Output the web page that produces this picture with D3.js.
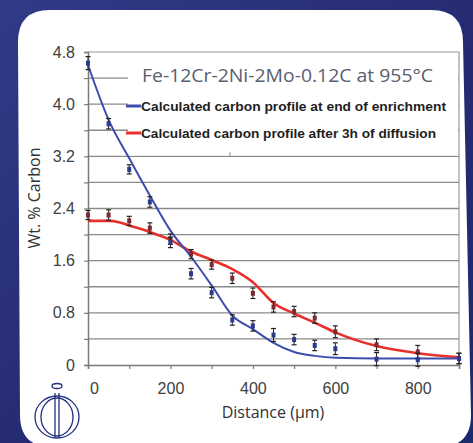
<!DOCTYPE html>
<html>
<head>
<meta charset="utf-8">
<script src="https://cdn.jsdelivr.net/npm/d3@7"></script>
<style>
  body { margin: 0; background: #242a70; }
  svg { display: block; }
</style>
</head>
<body>
<div id="chart"></div>
<script>
// measured points (x in µm)
var distance = [0, 50, 100, 150, 200, 250, 300, 350, 400, 450, 500, 550, 600, 700, 800, 900];
var enrichMeasured = [4.63, 3.70, 3.00, 2.50, 1.88, 1.40, 1.11, 0.69, 0.60, 0.46, 0.39, 0.30, 0.25, 0.09, 0.08, 0.10];
var enrichErr = [0.10, 0.08, 0.07, 0.08, 0.08, 0.08, 0.08, 0.08, 0.08, 0.10, 0.08, 0.08, 0.09, 0.10, 0.10, 0.08];
var diffMeasured = [2.30, 2.30, 2.21, 2.10, 1.93, 1.70, 1.54, 1.33, 1.10, 0.89, 0.82, 0.72, 0.51, 0.31, 0.20, 0.10];
var diffErr = [0.07, 0.08, 0.07, 0.08, 0.08, 0.07, 0.07, 0.08, 0.08, 0.08, 0.08, 0.08, 0.09, 0.09, 0.10, 0.08];

// calculated profiles
var enrichCalcX = [0, 50, 100, 150, 200, 250, 300, 350, 400, 450, 500, 550, 600, 700, 800, 900];
var enrichCalcY = [4.60, 3.76, 3.17, 2.60, 2.06, 1.66, 1.22, 0.76, 0.55, 0.34, 0.20, 0.14, 0.11, 0.10, 0.10, 0.10];
var diffCalcX = [0, 50, 75, 100, 150, 200, 250, 300, 350, 400, 450, 500, 550, 600, 700, 800, 900];
var diffCalcY = [2.21, 2.21, 2.19, 2.14, 2.04, 1.92, 1.74, 1.61, 1.47, 1.27, 0.95, 0.79, 0.65, 0.50, 0.29, 0.18, 0.12];

var yTicks = [0, 0.8, 1.6, 2.4, 3.2, 4.0, 4.8];
var yGrid = [0.4, 0.8, 1.2, 1.6, 2.0, 2.4, 2.8, 3.2, 3.6, 4.0, 4.4];
var xTicks = [0, 200, 400, 600, 800];
var xMinor = [0, 100, 200, 300, 400, 500, 600, 700, 800, 900];

var title = "Fe-12Cr-2Ni-2Mo-0.12C at 955°C";
var legendNames = ["Calculated carbon profile at end of enrichment",
                   "Calculated carbon profile after 3h of diffusion"];

var width = 473, height = 443;
var svg = d3.select("#chart").append("svg")
    .attr("width", width)
    .attr("height", height);

var defs = svg.append("defs");
var bg = defs.append("linearGradient").attr("id", "bg")
    .attr("x1", 0).attr("y1", 0).attr("x2", 1).attr("y2", 1);
bg.append("stop").attr("offset", "0%").attr("stop-color", "#323a88");
bg.append("stop").attr("offset", "55%").attr("stop-color", "#252b72");
bg.append("stop").attr("offset", "100%").attr("stop-color", "#1c2a6c");

svg.append("rect").attr("width", width).attr("height", height).attr("fill", "url(#bg)");

// white rounded panel (slightly skewed like the photo)
var r = 32;
var panel = "M" + (18 + r) + ",10 L" + (463 - r) + ",10 Q463,10 463," + (10 + r) +
    " L471," + (447 - r) + " Q471,447 " + (471 - r) + ",447 L" + (20 + r) + ",447 Q20,447 20," + (447 - r) +
    " L18," + (10 + r) + " Q18,10 " + (18 + r) + ",10 Z";
svg.append("path").attr("d", panel).attr("fill", "#ffffff");

var x = d3.scaleLinear().domain([0, 900]).range([88, 459]);
var y = d3.scaleLinear().domain([0, 4.8]).range([365, 52]);

// gridlines
svg.append("g").selectAll("line").data(yGrid).enter().append("line")
    .attr("x1", x(0)).attr("x2", x(900))
    .attr("y1", d => y(d)).attr("y2", d => y(d))
    .attr("stroke", "#8a8a8a").attr("stroke-width", 1.3);

// frame top and right
svg.append("path")
    .attr("d", "M" + x(0) + "," + y(4.8) + "H" + x(900) + "V" + y(0))
    .attr("fill", "none").attr("stroke", "#9a9a9a").attr("stroke-width", 1.2);

// legend box
svg.append("rect")
    .attr("x", 128).attr("y", y(4.8) + 1)
    .attr("width", x(900) - 129).attr("height", y(3.2) - y(4.8) - 2)
    .attr("fill", "#fff");
svg.append("line")
    .attr("x1", 230).attr("x2", 230).attr("y1", y(3.2) - 4).attr("y2", y(3.2))
    .attr("stroke", "#888");

svg.append("text")
    .attr("x", 142).attr("y", 82)
    .attr("textLength", 291).attr("lengthAdjust", "spacingAndGlyphs")
    .style("font-family", "Open Sans, Liberation Sans, sans-serif")
    .style("font-size", "18px")
    .style("fill", "#5a6070")
    .text(title);

var legColors = ["#3d4dae", "#e8302a"];
var legY = [106, 133];
var legLen = [305, 295];
legendNames.forEach(function (name, i) {
  svg.append("line")
      .attr("x1", 126).attr("x2", 141)
      .attr("y1", legY[i]).attr("y2", legY[i])
      .attr("stroke", legColors[i]).attr("stroke-width", 3);
  svg.append("text")
      .attr("x", 141).attr("y", legY[i] + 5)
      .attr("textLength", legLen[i]).attr("lengthAdjust", "spacingAndGlyphs")
      .style("font-family", "Liberation Sans, Arial, sans-serif")
      .style("font-weight", "bold")
      .style("font-size", "13px")
      .style("fill", "#1e1e1e")
      .text(name);
});

// axes
var xAxis = d3.axisBottom(x).tickValues(xMinor).tickSize(4).tickPadding(14)
    .tickFormat(d => xTicks.indexOf(d) >= 0 ? d : "");
var gx = svg.append("g").attr("transform", "translate(0," + y(0) + ")").call(xAxis);

var yAxis = d3.axisLeft(y).tickValues([0].concat(yGrid, [4.8])).tickSize(4).tickPadding(9)
    .tickFormat(d => yTicks.some(t => Math.abs(t - d) < 1e-6) ? (d === 0 ? "0" : d3.format(".1f")(d)) : "");
var gy = svg.append("g").attr("transform", "translate(" + x(0) + ",0)").call(yAxis);

[gx, gy].forEach(function (g) {
  g.select(".domain").attr("stroke", "#7a7a7a").attr("stroke-width", 1.5);
  g.selectAll(".tick line").attr("stroke", "#7a7a7a").attr("stroke-width", 1.2);
  g.selectAll(".tick text")
      .style("font-family", "Liberation Sans, Arial, sans-serif")
      .style("font-size", "16px")
      .style("fill", "#404040");
});
gx.selectAll(".tick text").filter(d => d === 0).attr("x", 6);

svg.append("text")
    .attr("x", 273).attr("y", 418)
    .attr("text-anchor", "middle")
    .style("font-family", "Open Sans, Liberation Sans, sans-serif")
    .style("font-size", "16px")
    .style("fill", "#333")
    .text("Distance (µm)");

svg.append("text")
    .attr("transform", "translate(40,198) rotate(-90)")
    .attr("text-anchor", "middle")
    .style("font-family", "Open Sans, Liberation Sans, sans-serif")
    .style("font-size", "16px")
    .style("fill", "#333")
    .text("Wt. % Carbon");

// calculated curves
var line = d3.line().x(d => x(d[0])).y(d => y(d[1])).curve(d3.curveMonotoneX);
svg.append("path")
    .datum(d3.zip(diffCalcX, diffCalcY))
    .attr("d", line).attr("fill", "none")
    .attr("stroke", legColors[1]).attr("stroke-width", 2.6);
svg.append("path")
    .datum(d3.zip(enrichCalcX, enrichCalcY))
    .attr("d", line).attr("fill", "none")
    .attr("stroke", legColors[0]).attr("stroke-width", 2);

// measured points with error bars
function drawPoints(vals, errs, fill) {
  var pts = distance.map((d, i) => ({x: d, y: vals[i], e: errs[i]}));
  var g = svg.append("g").selectAll("g").data(pts).enter().append("g");
  g.append("line")
      .attr("x1", d => x(d.x)).attr("x2", d => x(d.x))
      .attr("y1", d => y(d.y + d.e)).attr("y2", d => y(d.y - d.e))
      .attr("stroke", "#222").attr("stroke-width", 1);
  g.append("line")
      .attr("x1", d => x(d.x) - 2.5).attr("x2", d => x(d.x) + 2.5)
      .attr("y1", d => y(d.y + d.e)).attr("y2", d => y(d.y + d.e))
      .attr("stroke", "#222").attr("stroke-width", 1.2);
  g.append("line")
      .attr("x1", d => x(d.x) - 2.5).attr("x2", d => x(d.x) + 2.5)
      .attr("y1", d => y(d.y - d.e)).attr("y2", d => y(d.y - d.e))
      .attr("stroke", "#222").attr("stroke-width", 1.2);
  g.append("rect")
      .attr("x", d => x(d.x) - 2).attr("y", d => y(d.y) - 2.5)
      .attr("width", 4).attr("height", 5)
      .attr("fill", fill);
}
drawPoints(diffMeasured, diffErr, "#7a2a30");
drawPoints(enrichMeasured, enrichErr, "#2c3a8c");

// logo
var logo = svg.append("g").attr("fill", "none").attr("stroke", "#22307e").attr("stroke-width", 1.3);
logo.append("ellipse").attr("cx", 57).attr("cy", 417).attr("rx", 22).attr("ry", 21);
logo.append("ellipse").attr("cx", 57).attr("cy", 417).attr("rx", 16).attr("ry", 19);
logo.append("ellipse").attr("cx", 57).attr("cy", 386).attr("rx", 5).attr("ry", 2.5);
logo.append("line").attr("x1", 55).attr("x2", 55).attr("y1", 393).attr("y2", 438);
logo.append("line").attr("x1", 59).attr("x2", 59).attr("y1", 393).attr("y2", 438);
</script>
</body>
</html>
